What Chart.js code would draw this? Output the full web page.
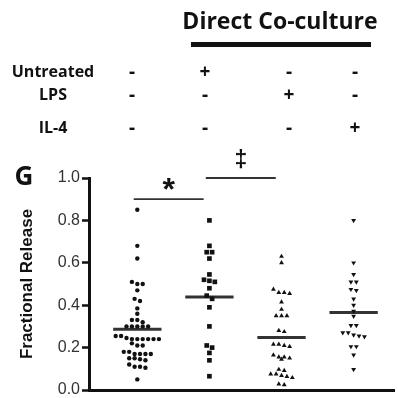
<!DOCTYPE html>
<html>
<head>
<meta charset="utf-8">
<script src="https://cdn.jsdelivr.net/npm/chart.js@4.4.1/dist/chart.umd.min.js"></script>
<style>
  body { margin: 0; background: #fff; }
  #wrap { position: relative; width: 398px; height: 398px; overflow: hidden; }
  #chart { position: absolute; left: 0; top: 0; }
  .lbl { position: absolute; transform: translate(-50%, -50%); white-space: nowrap;
         font-family: "Open Sans", "Liberation Sans", sans-serif; font-weight: bold; color: #111; }
</style>
</head>
<body>
<div id="wrap">
  <canvas id="chart" width="398" height="398"></canvas>
</div>
<script>
// treatment table above the plot
const rowNames = ["Untreated", "LPS", "IL-4"];
const untreatedSigns = ["-", "+", "-", "-"];
const lpsSigns = ["-", "-", "+", "-"];
const il4Signs = ["-", "-", "-", "+"];

// fractional release per well, one array per group
const controlVals = [0.85, 0.68, 0.62, 0.51, 0.50, 0.50, 0.47, 0.43, 0.42, 0.385, 0.36,
  0.33, 0.33, 0.32, 0.30, 0.30, 0.30, 0.30, 0.30, 0.255, 0.255, 0.245, 0.24, 0.24, 0.24,
  0.24, 0.24, 0.24, 0.22, 0.21, 0.21, 0.18, 0.18, 0.17, 0.17, 0.17, 0.17, 0.15, 0.15,
  0.145, 0.14, 0.12, 0.11, 0.11, 0.105, 0.05];
const untreatedVals = [0.80, 0.68, 0.65, 0.65, 0.62, 0.545, 0.52, 0.515, 0.51, 0.48,
  0.445, 0.43, 0.39, 0.30, 0.21, 0.20, 0.175, 0.14, 0.065];
const lpsVals = [0.63, 0.60, 0.475, 0.46, 0.46, 0.455, 0.415, 0.38, 0.35, 0.35, 0.35,
  0.28, 0.275, 0.215, 0.215, 0.21, 0.205, 0.165, 0.155, 0.155, 0.15, 0.145, 0.097, 0.092,
  0.075, 0.075, 0.068, 0.063, 0.058, 0.028, 0.024];
const il4Vals = [0.80, 0.60, 0.545, 0.51, 0.51, 0.475, 0.47, 0.43, 0.40, 0.372, 0.348,
  0.305, 0.305, 0.27, 0.27, 0.26, 0.255, 0.252, 0.205, 0.205, 0.165, 0.097];

const yTicks = [0, 0.2, 0.4, 0.6, 0.8, 1.0];
// significance bars: [from group, to group, height, symbol]
const sigBars = [[1, 2, 0.90, "*"], [2, 3, 1.0, "\u2021"]];

const groups = [controlVals, untreatedVals, lpsVals, il4Vals];
const markers = ["circle", "rect", "triangle", "triangle"];
const markerSize = [2.2, 3.3, 2.8, 2.8];
const markerRot = [0, 0, 0, 180];

// header table
const wrap = document.getElementById("wrap");
function addLabel(text, x, y, size) {
  const d = document.createElement("div");
  d.className = "lbl";
  d.textContent = text;
  d.style.left = x + "px";
  d.style.top = y + "px";
  d.style.fontSize = size + "px";
  wrap.appendChild(d);
  return d;
}
addLabel("Direct Co-culture", 280, 20, 23);
const bar = document.createElement("div");
bar.style.cssText = "position:absolute;left:191px;top:42px;width:180px;height:5px;background:#111;";
wrap.appendChild(bar);
const colX = [132, 205, 289, 355];
const rowY = [71, 94, 127];
[untreatedSigns, lpsSigns, il4Signs].forEach((signs, r) => {
  addLabel(rowNames[r], 53, rowY[r], 16);
  signs.forEach((s, c) => addLabel(s, colX[c], rowY[r], 19));
});
addLabel("G", 24, 175, 26);

// lay dots of one group out in centred rows (scatter dot plot)
const rowTol = 0.02, dotGap = 0.075;
function swarm(values, center) {
  const sorted = [...values].sort((a, b) => b - a);
  const rows = [];
  sorted.forEach(v => {
    const row = rows[rows.length - 1];
    if (row && row[0] - v < rowTol) row.push(v);
    else rows.push([v]);
  });
  const pts = [];
  rows.forEach(row => row.forEach((v, k) => {
    pts.push({ x: center + (k - (row.length - 1) / 2) * dotGap, y: v });
  }));
  return pts;
}
const mean = a => a.reduce((s, v) => s + v, 0) / a.length;

const datasets = [];
groups.forEach((vals, i) => {
  const c = i + 1;
  datasets.push({
    type: "scatter",
    data: swarm(vals, c),
    pointStyle: markers[i],
    pointRadius: markerSize[i],
    pointRotation: markerRot[i],
    backgroundColor: "#111",
    borderColor: "#111",
    borderWidth: 0,
  });
  const m = mean(vals);
  datasets.push({
    type: "line",
    data: [{ x: c - 0.335, y: m }, { x: c + 0.335, y: m }],
    borderColor: "#333",
    borderWidth: 3,
    pointRadius: 0,
  });
});

const sigPlugin = {
  id: "sig",
  afterDatasetsDraw(chart) {
    const { ctx, scales: { x, y } } = chart;
    ctx.save();
    sigBars.forEach(([a, b, h, sym]) => {
      const x1 = x.getPixelForValue(a - 0.05);
      const x2 = x.getPixelForValue(b - 0.08);
      const py = y.getPixelForValue(h);
      ctx.strokeStyle = "#333";
      ctx.lineWidth = 1.8;
      ctx.beginPath();
      ctx.moveTo(x1, py);
      ctx.lineTo(x2, py);
      ctx.stroke();
      ctx.fillStyle = "#111";
      ctx.textAlign = "center";
      ctx.textBaseline = "alphabetic";
      if (sym === "*") {
        ctx.font = "bold 32px 'Liberation Sans', Arial";
        ctx.fillText(sym, (x1 + x2) / 2, py + 1);
      } else {
        ctx.font = "bold 23px 'Liberation Sans', Arial";
        ctx.fillText(sym, (x1 + x2) / 2, py - 11);
      }
    });
    ctx.restore();
  },
};

new Chart(document.getElementById("chart"), {
  data: { datasets },
  plugins: [sigPlugin],
  options: {
    responsive: false,
    animation: false,
    layout: { padding: { top: 178, right: 0, bottom: 8, left: 0 } },
    plugins: { legend: { display: false }, tooltip: { enabled: false } },
    scales: {
      x: {
        type: "linear",
        min: 0.33,
        max: 4.56,
        grid: { display: false, drawTicks: false },
        ticks: { display: false },
        border: { color: "#111", width: 3 },
        afterFit: s => { s.height = 0; s.paddingLeft = 0; s.paddingRight = 0; },
      },
      y: {
        min: 0,
        max: 1,
        afterBuildTicks: s => { s.ticks = yTicks.map(v => ({ value: v })); },
        ticks: {
          callback: v => v.toFixed(1),
          color: "#333",
          padding: 2,
          font: { family: "'Liberation Sans', Arial", size: 16 },
        },
        grid: { drawOnChartArea: false, drawTicks: true, tickLength: 7, tickColor: "#111", tickWidth: 2.5 },
        border: { color: "#111", width: 3 },
        title: {
          display: true,
          text: "Fractional Release",
          color: "#111",
          padding: { top: 17, bottom: 0 },
          font: { family: "'Liberation Sans', Arial", size: 17, weight: "bold" },
        },
        afterFit: s => { s.width = 89; s.paddingTop = 0; s.paddingBottom = 0; },
      },
    },
  },
});
</script>
</body>
</html>
